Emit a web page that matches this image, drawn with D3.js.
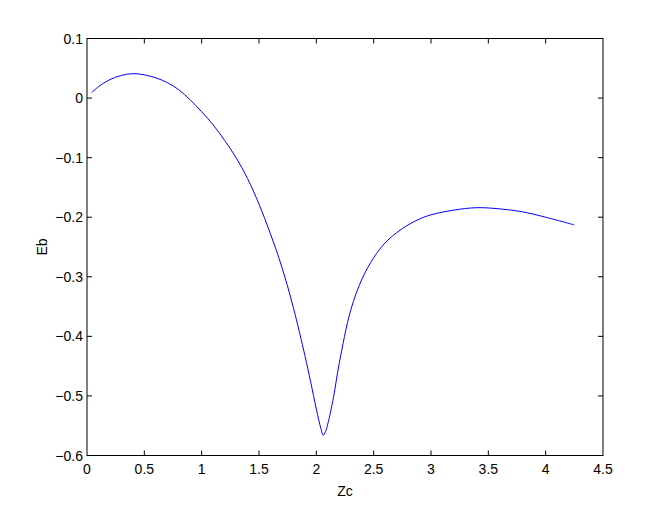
<!DOCTYPE html>
<html><head><meta charset="utf-8">
<script src="https://cdn.jsdelivr.net/npm/d3@7"></script>
<style>body{margin:0;background:#fff;} svg{display:block;}</style>
</head><body>
<script>
const zc = [0.04,0.1,0.2,0.3,0.4,0.5,0.6,0.7,0.8,0.9,1.0,1.1,1.2,1.3,1.4,1.5,1.6,1.7,1.8,1.9,1.95,2.0,2.04,2.06,2.08,2.1,2.15,2.2,2.3,2.4,2.5,2.6,2.7,2.8,2.9,3.0,3.2,3.4,3.6,3.8,4.0,4.25];
const eb = [0.009,0.019,0.031,0.038,0.041,0.039,0.034,0.026,0.014,-0.003,-0.023,-0.045,-0.071,-0.100,-0.135,-0.178,-0.228,-0.284,-0.352,-0.432,-0.476,-0.522,-0.555,-0.566,-0.560,-0.547,-0.502,-0.445,-0.356,-0.303,-0.268,-0.243,-0.226,-0.213,-0.203,-0.196,-0.188,-0.184,-0.186,-0.191,-0.200,-0.213];
const xTicks = [0,0.5,1,1.5,2,2.5,3,3.5,4,4.5];
const yTicks = [-0.6,-0.5,-0.4,-0.3,-0.2,-0.1,0,0.1];
const xLabel = "Zc", yLabel = "Eb";

const W = 666, H = 513;
const L = 87, R = 603, T = 38.5, B = 455.5;
const svg = d3.select("body").append("svg").attr("width", W).attr("height", H);
const x = d3.scaleLinear().domain([0,4.5]).range([L,R]);
const y = d3.scaleLinear().domain([-0.6,0.1]).range([B,T]);
const font = "Liberation Sans, Arial, Helvetica, sans-serif";
const tl = 5;

const g = svg.append("g");
xTicks.forEach(v => {
  if (v > 0 && v < 4.5) {
    g.append("line").attr("x1", x(v)).attr("x2", x(v)).attr("y1", B).attr("y2", B - tl).attr("stroke", "#000");
    g.append("line").attr("x1", x(v)).attr("x2", x(v)).attr("y1", T).attr("y2", T + tl).attr("stroke", "#000");
  }
  g.append("text").attr("x", x(v)).attr("y", B + 18).attr("text-anchor", "middle")
    .attr("font-family", font).attr("font-size", 14).text(d3.format("~g")(v));
});
yTicks.forEach(v => {
  if (v > -0.6 && v < 0.1) {
    g.append("line").attr("x1", L).attr("x2", L + tl).attr("y1", y(v)).attr("y2", y(v)).attr("stroke", "#000");
    g.append("line").attr("x1", R).attr("x2", R - tl).attr("y1", y(v)).attr("y2", y(v)).attr("stroke", "#000");
  }
  g.append("text").attr("x", L - 4).attr("y", y(v) + 5).attr("text-anchor", "end")
    .attr("font-family", font).attr("font-size", 14).text(d3.format("~g")(v).replace("-", "\u2212"));
});
g.append("rect").attr("x", L).attr("y", T).attr("width", R - L).attr("height", B - T)
  .attr("fill", "none").attr("stroke", "#000").attr("stroke-width", 1);

const pts = zc.map((d, i) => [d, eb[i]]);
svg.append("path").datum(pts)
  .attr("d", d3.line().x(d => x(d[0])).y(d => y(d[1])).curve(d3.curveCatmullRom.alpha(0.5)))
  .attr("fill", "none").attr("stroke", "#0000ff").attr("stroke-width", 1);

svg.append("text").attr("x", (L + R) / 2).attr("y", 496).attr("text-anchor", "middle")
  .attr("font-family", font).attr("font-size", 14).text(xLabel);
svg.append("text").attr("transform", `translate(47,${(T + B) / 2}) rotate(-90)`).attr("text-anchor", "middle")
  .attr("font-family", font).attr("font-size", 14).text(yLabel);
</script>
</body></html>
